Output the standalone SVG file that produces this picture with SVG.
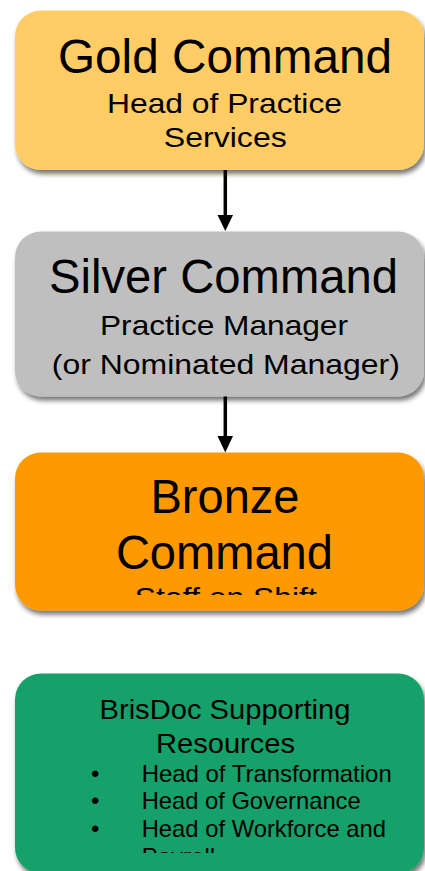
<svg xmlns="http://www.w3.org/2000/svg" width="425" height="871" viewBox="0 0 425 871">
<style>
.t{font-family:"Liberation Sans",Arial,sans-serif;fill:#000;text-anchor:middle}
.h{font-size:48px}
.s{font-size:28px}
.b{font-size:24px;text-anchor:start}
.conn{stroke:#000;stroke-width:3.5;fill:none}
</style>
<defs>
<filter id="sh" x="-10%" y="-10%" width="130%" height="130%">
<feGaussianBlur in="SourceAlpha" stdDeviation="2.5"/>
<feOffset dx="2" dy="4" result="o"/>
<feComponentTransfer><feFuncA type="linear" slope="0.55"/></feComponentTransfer>
<feMerge><feMergeNode/><feMergeNode in="SourceGraphic"/></feMerge>
</filter>
<clipPath id="cb"><rect x="0" y="440" width="425" height="155"/></clipPath>
<clipPath id="cg"><rect x="0" y="680" width="425" height="173"/></clipPath>
</defs>
<g id="gold">
<rect x="15" y="10.5" width="409" height="159.5" rx="26" fill="#FFCC66" filter="url(#sh)"/>
<text class="t h" x="225" y="73" textLength="334" lengthAdjust="spacingAndGlyphs">Gold Command</text>
<text class="t s" x="224.5" y="113" textLength="235" lengthAdjust="spacingAndGlyphs">Head of Practice</text>
<text class="t s" x="225.3" y="146.7" textLength="123" lengthAdjust="spacingAndGlyphs">Services</text>
</g>
<g id="silver">
<rect x="15" y="231.5" width="409" height="165" rx="26" fill="#BFBFBF" filter="url(#sh)"/>
<text class="t h" x="223.5" y="293.3" textLength="349" lengthAdjust="spacingAndGlyphs">Silver Command</text>
<text class="t s" x="224" y="335" textLength="248" lengthAdjust="spacingAndGlyphs">Practice Manager</text>
<text class="t s" x="225.8" y="374" textLength="348" lengthAdjust="spacingAndGlyphs">(or Nominated Manager)</text>
</g>
<g id="bronze">
<rect x="15" y="452.5" width="409" height="158" rx="26" fill="#FF9900" filter="url(#sh)"/>
<text class="t h" x="225" y="513.3" textLength="149" lengthAdjust="spacingAndGlyphs">Bronze</text>
<text class="t h" x="224.4" y="569.3" textLength="217" lengthAdjust="spacingAndGlyphs">Command</text>
<g clip-path="url(#cb)">
<text class="t s" x="225.8" y="607" textLength="182" lengthAdjust="spacingAndGlyphs">Staff on Shift</text>
</g>
</g>
<g id="support">
<rect x="15" y="673.5" width="409" height="200" rx="26" fill="#13A06B" filter="url(#sh)"/>
<text class="t s" x="225" y="719.3" textLength="251" lengthAdjust="spacingAndGlyphs">BrisDoc Supporting</text>
<text class="t s" x="225.5" y="753.3" textLength="139" lengthAdjust="spacingAndGlyphs">Resources</text>
<g clip-path="url(#cg)">
<text class="t b" x="91" y="781.7">•</text>
<text class="t b" x="141.7" y="781.7" textLength="250" lengthAdjust="spacingAndGlyphs">Head of Transformation</text>
<text class="t b" x="91" y="809.3">•</text>
<text class="t b" x="141.7" y="809.3" textLength="219" lengthAdjust="spacingAndGlyphs">Head of Governance</text>
<text class="t b" x="91" y="837.3">•</text>
<text class="t b" x="141.7" y="837.3" textLength="244.3" lengthAdjust="spacingAndGlyphs">Head of Workforce and</text>
<text class="t b" x="141.7" y="865">Payroll</text>
</g>
</g>
<g id="connectors">
<line class="conn" x1="225.3" y1="170" x2="225.3" y2="216"/>
<polygon points="217.5,215 233,215 225.3,231" fill="#000"/>
<line class="conn" x1="225.3" y1="396.5" x2="225.3" y2="437"/>
<polygon points="217.5,436 233,436 225.3,452.5" fill="#000"/>
</g>
</svg>
